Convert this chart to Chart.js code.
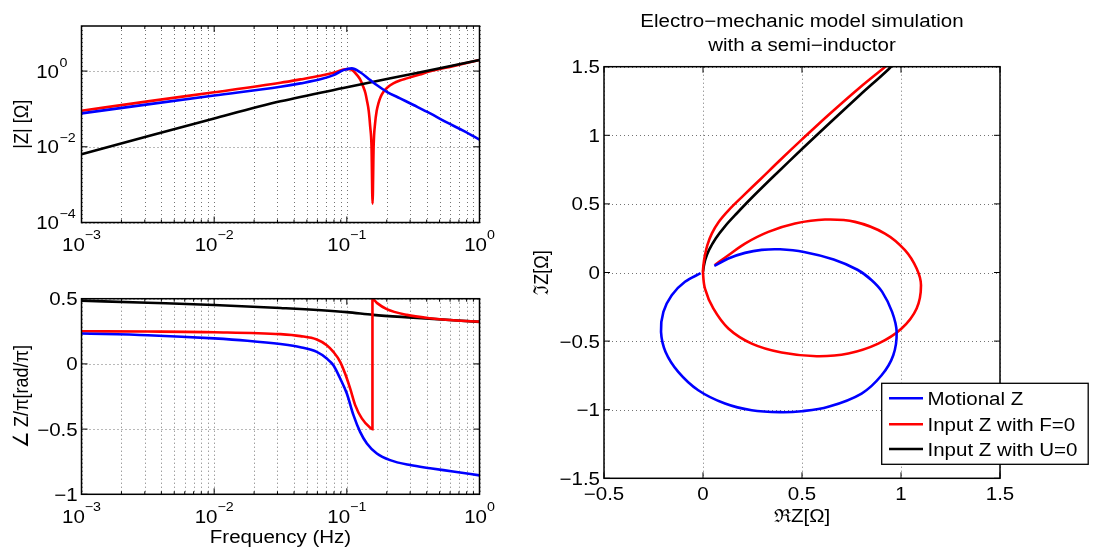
<!DOCTYPE html>
<html>
<head>
<meta charset="utf-8">
<script src="https://cdn.jsdelivr.net/npm/chart.js@4.4.0/dist/chart.umd.min.js"></script>
<style>
  html, body { margin: 0; padding: 0; background: #fff; }
  #wrap { position: relative; width: 1093px; height: 553px; overflow: hidden; }
  #wrap canvas { position: absolute; left: 0; top: 0; }
</style>
</head>
<body>
<div id="wrap">
  <canvas id="magChart" width="1093" height="553"></canvas>
  <canvas id="phaseChart" width="1093" height="553"></canvas>
  <canvas id="nyqChart" width="1093" height="553"></canvas>
</div>
<script>
// ---------- Data ----------
// |Z| vs frequency (Hz)
const magFreqBlue = [0.001, 0.00316, 0.01, 0.0316, 0.0447, 0.0631, 0.0794, 0.0942, 0.109, 0.126, 0.15, 0.168, 0.2, 0.252, 0.318, 0.425, 0.562, 0.759, 1.0];
const magBlue     = [0.0764, 0.132, 0.227, 0.386, 0.473, 0.604, 0.783, 1.06, 1.18, 0.93, 0.578, 0.427, 0.284, 0.190, 0.127, 0.0762, 0.0447, 0.0263, 0.0155];

const magFreqRed = [0.001, 0.00316, 0.01, 0.0316, 0.0447, 0.0631, 0.0794, 0.1, 0.106, 0.112, 0.119, 0.126, 0.133, 0.138, 0.1416, 0.1462, 0.150, 0.1535, 0.1563, 0.1592, 0.1633, 0.1679, 0.173, 0.180, 0.189, 0.204, 0.224, 0.251, 0.283, 0.355, 0.425, 0.631, 1.0];
const magRed     = [0.0891, 0.1585, 0.275, 0.490, 0.603, 0.752, 0.902, 1.13, 1.12, 1.0, 0.794, 0.603, 0.385, 0.263, 0.170, 0.0891, 0.0339, 0.010, 0.000316, 0.010, 0.0417, 0.0891, 0.140, 0.209, 0.284, 0.380, 0.473, 0.562, 0.641, 0.813, 0.982, 1.35, 1.95];

const magFreqBlack = [0.001, 0.00316, 0.01, 0.0316, 0.1, 0.316, 1.0];
const magBlack     = [0.00631, 0.0190, 0.0562, 0.1585, 0.372, 0.851, 1.95];

// angle(Z)/pi vs frequency (Hz)
const phaseFreqBlue = [0.001, 0.00316, 0.01, 0.0178, 0.0316, 0.0447, 0.0594, 0.0706, 0.0792, 0.0891, 0.1, 0.1122, 0.1259, 0.1416, 0.1683, 0.2118, 0.2999, 0.4246, 0.631, 1.0];
const phaseBlue     = [0.233, 0.22, 0.196, 0.178, 0.152, 0.128, 0.092, 0.041, -0.01, -0.112, -0.227, -0.393, -0.521, -0.61, -0.687, -0.738, -0.776, -0.80, -0.825, -0.855];

const phaseFreqRed = [0.001, 0.00316, 0.01, 0.0316, 0.0447, 0.0594, 0.0706, 0.0792, 0.0891, 0.097, 0.1059, 0.1156, 0.1297, 0.15, 0.156, 0.156, 0.1683, 0.2, 0.2831, 0.4246, 0.631, 1.0];
const phaseRed     = [0.25, 0.248, 0.243, 0.228, 0.213, 0.187, 0.143, 0.092, 0.016, -0.074, -0.188, -0.316, -0.418, -0.49, -0.5, 0.5, 0.468, 0.42, 0.376, 0.35, 0.335, 0.324];

const phaseFreqBlack = [0.001, 0.00316, 0.01, 0.0316, 0.1, 0.158, 0.316, 1.0];
const phaseBlack     = [0.485, 0.469, 0.452, 0.429, 0.397, 0.376, 0.355, 0.322];

// Nyquist: Re Z, Im Z
const nyqBlueRe = [0.057, 0.128, 0.212, 0.296, 0.389, 0.51, 0.66, 0.78, 0.852, 0.905, 0.955, 0.978, 0.961, 0.902, 0.801, 0.633, 0.498, 0.389, 0.246, 0.111, -0.024, -0.125, -0.189, -0.212, -0.200, -0.158, -0.091, -0.012];
const nyqBlueIm = [0.048, 0.102, 0.143, 0.165, 0.169, 0.150, 0.095, 0.020, -0.056, -0.141, -0.287, -0.433, -0.603, -0.749, -0.882, -0.979, -1.011, -1.018, -1.004, -0.955, -0.858, -0.724, -0.579, -0.433, -0.287, -0.165, -0.068, -0.005];

const nyqRedRe = [0.06, 0.128, 0.212, 0.330, 0.465, 0.616, 0.768, 0.919, 1.020, 1.079, 1.101, 1.079, 1.003, 0.885, 0.734, 0.574, 0.397, 0.246, 0.128, 0.052, 0.010, 0.0, 0.002, 0.009, 0.022, 0.045, 0.08, 0.13, 0.2, 0.29, 0.39, 0.5, 0.635, 0.785, 0.93, 0.965];
const nyqRedIm = [0.055, 0.126, 0.211, 0.296, 0.357, 0.386, 0.369, 0.284, 0.163, 0.029, -0.093, -0.262, -0.408, -0.518, -0.590, -0.610, -0.583, -0.518, -0.408, -0.262, -0.117, 0.0, 0.05, 0.12, 0.20, 0.285, 0.37, 0.455, 0.555, 0.68, 0.82, 0.97, 1.15, 1.34, 1.51, 1.55];

const nyqBlackRe = [0.0003, 0.004, 0.012, 0.03, 0.065, 0.11, 0.17, 0.25, 0.37, 0.5, 0.64, 0.79, 0.936, 0.975];
const nyqBlackIm = [0.006, 0.045, 0.095, 0.163, 0.25, 0.335, 0.43, 0.55, 0.72, 0.9, 1.09, 1.29, 1.48, 1.54];

// Ticks
const freqTicks = [0.001, 0.01, 0.1, 1];
const freqTickExp = ['\u22123', '\u22122', '\u22121', '0'];
const magTicks = [1e-4, 1e-2, 1];
const magTickExp = ['\u22124', '\u22122', '0'];
const phaseTicks = [-1, -0.5, 0, 0.5];
const phaseTickLabels = ['\u22121', '\u22120.5', '0', '0.5'];
const nyqXTicks = [-0.5, 0, 0.5, 1, 1.5];
const nyqXLabels = ['\u22120.5', '0', '0.5', '1', '1.5'];
const nyqYTicks = [-1.5, -1, -0.5, 0, 0.5, 1, 1.5];
const nyqYLabels = ['\u22121.5', '\u22121', '\u22120.5', '0', '0.5', '1', '1.5'];

const legendLabels = ['Motional Z', 'Input Z with F=0', 'Input Z with U=0'];
const BLUE = '#0000ff', RED = '#ff0000', BLACK = '#000000';

// ---------- Helpers ----------
const FONT = '"Liberation Sans", Arial, Helvetica, sans-serif';
const FS = 18;      // main text size
const FS_EXP = 12.5; // exponent size
const SX = 1.14;    // horizontal stretch of the original bitmap
const GRID = 'rgba(0,0,0,0.55)';

const pts = (xs, ys) => xs.map((v, i) => ({ x: v, y: ys[i] }));

function text(ctx, str, x, y, size, align, rotated) {
  ctx.save();
  ctx.translate(x, y);
  if (rotated) { ctx.rotate(-Math.PI / 2); ctx.scale(1, SX); } else ctx.scale(SX, 1);
  ctx.font = size + 'px ' + FONT;
  ctx.textAlign = align;
  ctx.textBaseline = rotated ? 'middle' : 'alphabetic';
  ctx.fillStyle = '#000';
  ctx.fillText(str, 0, 0);
  ctx.restore();
}

function width(ctx, str, size) {
  ctx.save();
  ctx.font = size + 'px ' + FONT;
  const w = ctx.measureText(str).width * SX;
  ctx.restore();
  return w;
}

// "10" with superscript exponent, centred on x
function powCentered(ctx, exp, x, base) {
  const w10 = width(ctx, '10', FS), we = width(ctx, exp, FS_EXP);
  const left = x - (w10 + we) / 2;
  text(ctx, '10', left, base, FS, 'left');
  text(ctx, exp, left + w10, base - 12, FS_EXP, 'left');
}

// "10" right-aligned at xr, exponent after it
function powRight(ctx, exp, xr, py) {
  text(ctx, '10', xr, py + 6.5, FS, 'right');
  text(ctx, exp, xr + 0.5, py - 4.5, FS_EXP, 'left');
}

function hline(ctx, x1, x2, y) { ctx.beginPath(); ctx.moveTo(x1, y); ctx.lineTo(x2, y); ctx.stroke(); }
function vline(ctx, x, y1, y2) { ctx.beginPath(); ctx.moveTo(x, y1); ctx.lineTo(x, y2); ctx.stroke(); }

function logMinors() {
  const out = [];
  [0.001, 0.01, 0.1].forEach(d => { for (let k = 2; k <= 9; k++) out.push(d * k); });
  return out;
}

// MATLAB-like axes: dotted grid under the lines, box + inward ticks + labels on top
function matlabAxes(cfg) {
  return {
    id: 'matlabAxes',
    beforeDatasetsDraw(chart) {
      const { ctx, chartArea: a, scales: { x, y } } = chart;
      ctx.save();
      ctx.strokeStyle = GRID;
      ctx.lineWidth = 1;
      ctx.setLineDash([1, 3]);
      cfg.xGrid.forEach(v => { const p = Math.round(x.getPixelForValue(v)) + 0.5; vline(ctx, p, a.top, a.bottom); });
      cfg.yGrid.forEach(v => { const p = Math.round(y.getPixelForValue(v)) + 0.5; hline(ctx, a.left, a.right, p); });
      ctx.restore();
    },
    afterDraw(chart) {
      const { ctx, chartArea: a, scales: { x, y } } = chart;
      ctx.save();
      ctx.strokeStyle = '#000';
      ctx.lineWidth = 1;
      cfg.xMajor.forEach(v => { const p = x.getPixelForValue(v); vline(ctx, p, a.bottom, a.bottom - 6); vline(ctx, p, a.top, a.top + 6); });
      (cfg.xMinor || []).forEach(v => { const p = x.getPixelForValue(v); vline(ctx, p, a.bottom, a.bottom - 3); vline(ctx, p, a.top, a.top + 3); });
      cfg.yMajor.forEach(v => { const p = y.getPixelForValue(v); hline(ctx, a.left, a.left + 6, p); hline(ctx, a.right, a.right - 6, p); });
      ctx.lineWidth = 1.5;
      ctx.strokeRect(a.left, a.top, a.right - a.left, a.bottom - a.top);
      ctx.restore();
      cfg.labels(chart);
    }
  };
}

function baseOptions(pad, xs, ys) {
  return {
    responsive: false,
    animation: false,
    events: [],
    layout: { padding: pad },
    plugins: { legend: { display: false }, tooltip: { enabled: false } },
    elements: { point: { radius: 0 }, line: { borderWidth: 2.6 } },
    scales: {
      x: Object.assign({ display: false }, xs),
      y: Object.assign({ display: false }, ys)
    }
  };
}

const W = 1093, H = 553;
const freqScale = { type: 'logarithmic', min: 0.001, max: 1 };

// ---------- |Z| chart ----------
new Chart(document.getElementById('magChart'), {
  type: 'line',
  data: {
    datasets: [
      { data: pts(magFreqBlue, magBlue), borderColor: BLUE, cubicInterpolationMode: 'monotone' },
      { data: pts(magFreqBlack, magBlack), borderColor: BLACK, cubicInterpolationMode: 'monotone' },
      { data: pts(magFreqRed, magRed), borderColor: RED, cubicInterpolationMode: 'monotone' }
    ]
  },
  options: baseOptions({ left: 81.5, top: 26, right: W - 479.5, bottom: H - 222.5 },
    freqScale, { type: 'logarithmic', min: 1e-4, max: 15.5 }),
  plugins: [matlabAxes({
    xGrid: freqTicks.concat(logMinors()), yGrid: magTicks,
    xMajor: freqTicks, xMinor: logMinors(), yMajor: magTicks,
    labels(chart) {
      const { ctx, chartArea: a, scales: { x, y } } = chart;
      magTicks.forEach((v, i) => powRight(ctx, magTickExp[i], 59, y.getPixelForValue(v)));
      freqTicks.forEach((v, i) => powCentered(ctx, freqTickExp[i], x.getPixelForValue(v), a.bottom + 28.5));
      text(ctx, '|Z| [\u03A9]', 22.5, (a.top + a.bottom) / 2, FS, 'center', true);
    }
  })]
});

// ---------- phase chart ----------
new Chart(document.getElementById('phaseChart'), {
  type: 'line',
  data: {
    datasets: [
      { data: pts(phaseFreqBlue, phaseBlue), borderColor: BLUE, cubicInterpolationMode: 'monotone' },
      { data: pts(phaseFreqRed, phaseRed), borderColor: RED, cubicInterpolationMode: 'monotone' },
      { data: pts(phaseFreqBlack, phaseBlack), borderColor: BLACK, cubicInterpolationMode: 'monotone' }
    ]
  },
  options: baseOptions({ left: 81.5, top: 298.7, right: W - 479.5, bottom: H - 494.3 },
    freqScale, { type: 'linear', min: -1, max: 0.5 }),
  plugins: [matlabAxes({
    xGrid: freqTicks.concat(logMinors()), yGrid: phaseTicks,
    xMajor: freqTicks, xMinor: logMinors(), yMajor: phaseTicks,
    labels(chart) {
      const { ctx, chartArea: a, scales: { x, y } } = chart;
      phaseTicks.forEach((v, i) => text(ctx, phaseTickLabels[i], 77.7, y.getPixelForValue(v) + 6.5, FS, 'right'));
      freqTicks.forEach((v, i) => powCentered(ctx, freqTickExp[i], x.getPixelForValue(v), a.bottom + 28.5));
      text(ctx, 'Frequency (Hz)', (a.left + a.right) / 2, 542.5, FS, 'center');
      text(ctx, '\u2220 Z/\u03C0[rad/\u03C0]', 22.5, (a.top + a.bottom) / 2, FS, 'center', true);
    }
  })]
});

// ---------- Nyquist chart ----------
new Chart(document.getElementById('nyqChart'), {
  type: 'line',
  data: {
    datasets: [
      { data: pts(nyqBlueRe, nyqBlueIm), borderColor: BLUE, tension: 0.35 },
      { data: pts(nyqRedRe, nyqRedIm), borderColor: RED, tension: 0.35 },
      { data: pts(nyqBlackRe, nyqBlackIm), borderColor: BLACK, tension: 0.35 }
    ]
  },
  options: baseOptions({ left: 604, top: 66.7, right: W - 1000, bottom: H - 478.3 },
    { type: 'linear', min: -0.5, max: 1.5 }, { type: 'linear', min: -1.5, max: 1.5 }),
  plugins: [matlabAxes({
    xGrid: nyqXTicks, yGrid: nyqYTicks,
    xMajor: nyqXTicks, yMajor: nyqYTicks,
    labels(chart) {
      const { ctx, chartArea: a, scales: { x, y } } = chart;
      nyqYTicks.forEach((v, i) => text(ctx, nyqYLabels[i], 600, y.getPixelForValue(v) + 6.5, FS, 'right'));
      nyqXTicks.forEach((v, i) => text(ctx, nyqXLabels[i], x.getPixelForValue(v), 500, FS, 'center'));
      const cx = (a.left + a.right) / 2;
      text(ctx, '\u211CZ[\u03A9]', cx, 522, FS, 'center');
      text(ctx, '\u2111Z[\u03A9]', 542, (a.top + a.bottom) / 2, FS, 'center', true);
      text(ctx, 'Electro\u2212mechanic model simulation', cx, 27, FS, 'center');
      text(ctx, 'with a semi\u2212inductor', cx, 51, FS, 'center');

      // legend box
      const lx = 881.7, ly = 383.3, lw = 206.5, lh = 81;
      ctx.save();
      ctx.fillStyle = '#fff';
      ctx.fillRect(lx, ly, lw, lh);
      ctx.strokeStyle = '#000';
      ctx.lineWidth = 1.3;
      ctx.strokeRect(lx, ly, lw, lh);
      const colors = [BLUE, RED, BLACK];
      const rows = [398.3, 424.3, 449];
      ctx.lineWidth = 2.6;
      legendLabels.forEach((lab, i) => {
        ctx.strokeStyle = colors[i];
        hline(ctx, 889, 923, rows[i]);
        text(ctx, lab, 927.5, rows[i] + 6.5, FS, 'left');
      });
      ctx.restore();
    }
  })]
});
</script>
</body>
</html>
